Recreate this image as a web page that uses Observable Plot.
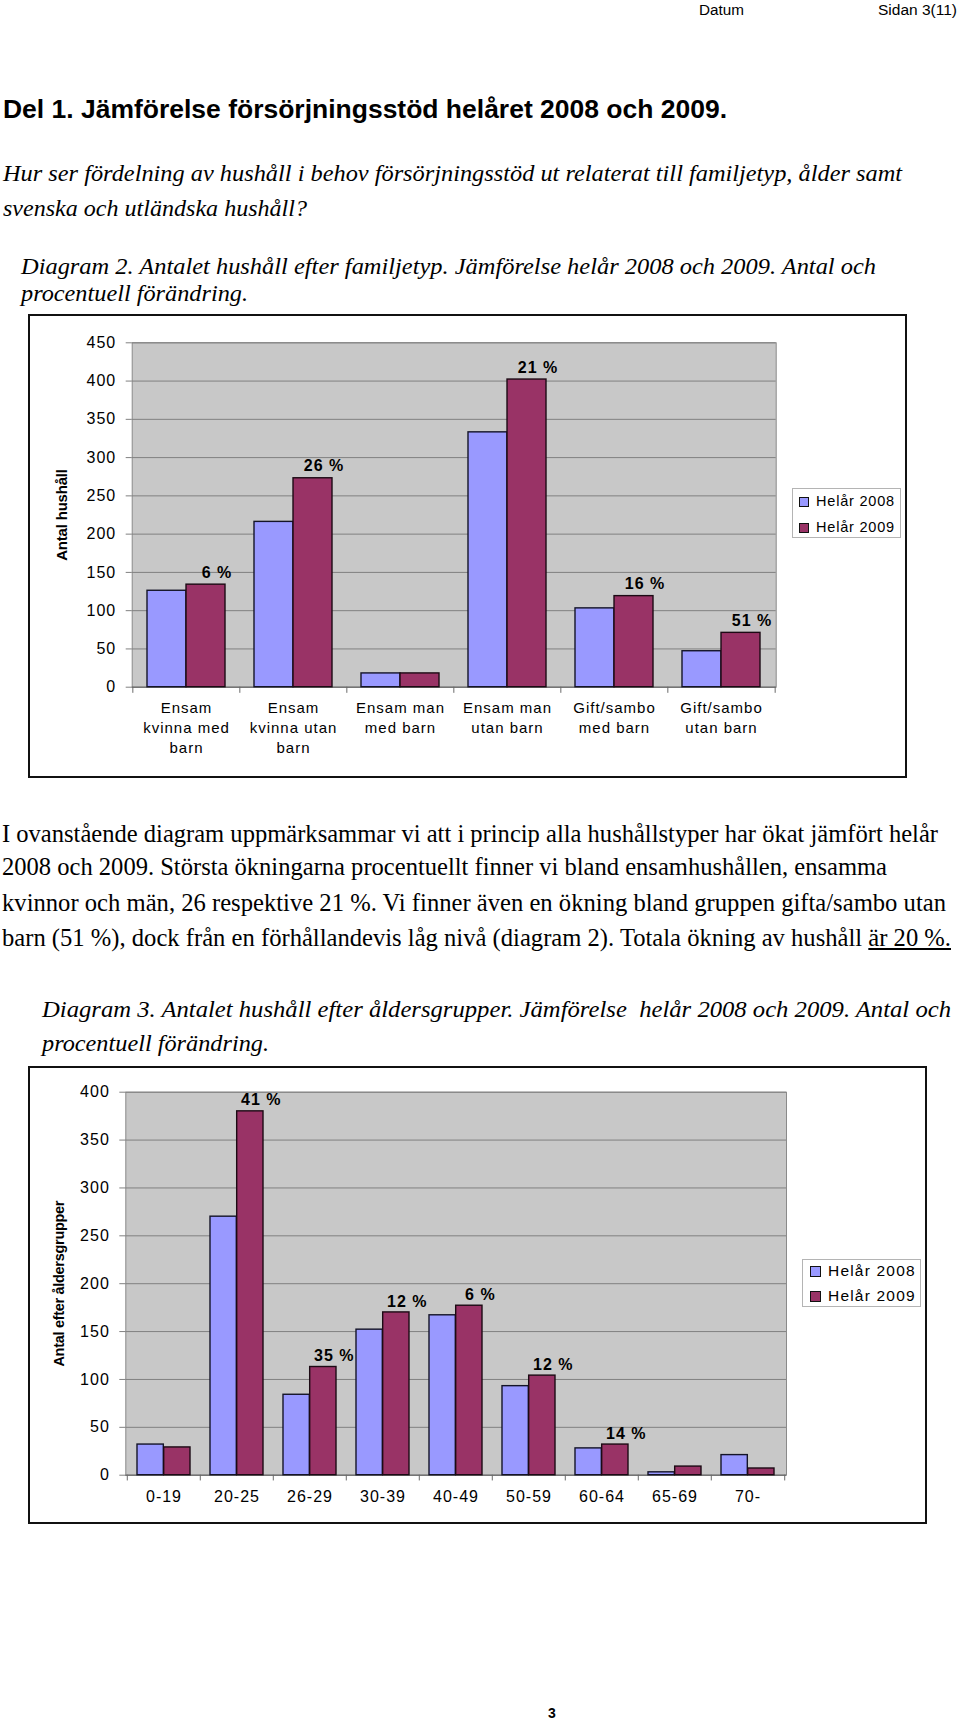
<!DOCTYPE html>
<html><head><meta charset="utf-8">
<script src="https://cdn.jsdelivr.net/npm/d3@7"></script>
<script src="https://cdn.jsdelivr.net/npm/@observablehq/plot@0.6"></script>
<style>
html,body{margin:0;padding:0;background:#fff;}
#page{position:relative;width:960px;height:1720px;overflow:hidden;background:#fff;}
.t{position:absolute;white-space:pre;transform-origin:0 0;line-height:1;color:#000;}
.box{position:absolute;border:2px solid #111;box-sizing:border-box;pointer-events:none;}
.chart{position:absolute;}
.legend{position:absolute;border:1px solid #b4b4b4;background:#fff;box-sizing:border-box;font-family:"Liberation Sans",Arial,sans-serif;}
.legend .row{position:absolute;left:0;white-space:nowrap;line-height:1;}
.legend .sw{position:absolute;border:1px solid #111;box-sizing:border-box;}
</style></head><body><div id="page"></div>
<script>
// ---------- DATA ----------
const seriesNames = ["Helår 2008", "Helår 2009"];
const seriesColors = ["#9999ff", "#993366"];

// Diagram 2 — family type
const familyTypes = ["Ensam\nkvinna med\nbarn", "Ensam\nkvinna utan\nbarn", "Ensam man\nmed barn", "Ensam man\nutan barn", "Gift/sambo\nmed barn", "Gift/sambo\nutan barn"];
const family2008 = [126, 216, 18, 333, 103, 47];
const family2009 = [134, 273, 18, 402, 119, 71];
const familyChange = ["6 %", "26 %", "", "21 %", "16 %", "51 %"];
const familyTicks = [0, 50, 100, 150, 200, 250, 300, 350, 400, 450];
const familyTitle = "Antal hushåll";

// Diagram 3 — age groups
const ageGroups = ["0-19", "20-25", "26-29", "30-39", "40-49", "50-59", "60-64", "65-69", "70-"];
const age2008 = [32, 270, 84, 152, 167, 93, 28, 3, 21];
const age2009 = [29, 380, 113, 170, 177, 104, 32, 9, 7];
const ageChange = ["", "41 %", "35 %", "12 %", "6 %", "12 %", "14 %", "", ""];
const ageTicks = [0, 50, 100, 150, 200, 250, 300, 350, 400];
const ageTitle = "Antal efter åldersgrupper";

// Document text
const headerLeft = "Datum";
const headerRight = "Sidan 3(11)";
const heading = "Del 1. Jämförelse försörjningsstöd helåret 2008 och 2009.";
const question = ["Hur ser fördelning av hushåll i behov försörjningsstöd ut relaterat till familjetyp, ålder samt", "svenska och utländska hushåll?"];
const caption2 = ["Diagram 2. Antalet hushåll efter familjetyp. Jämförelse helår 2008 och 2009. Antal och", "procentuell förändring."];
const paragraph = ["I ovanstående diagram uppmärksammar vi att i princip alla hushållstyper har ökat jämfört helår", "2008 och 2009. Största ökningarna procentuellt finner vi bland ensamhushållen, ensamma", "kvinnor och män, 26 respektive 21 %. Vi finner även en ökning bland gruppen gifta/sambo utan", "barn (51 %), dock från en förhållandevis låg nivå (diagram 2). Totala ökning av hushåll "];
const paragraphUnderlined = "är 20 %.";
const caption3 = ["Diagram 3. Antalet hushåll efter åldersgrupper. Jämförelse  helår 2008 och 2009. Antal och", "procentuell förändring."];
const pageNumber = "3";

// ---------- LAYOUT HELPERS ----------
const page = document.getElementById("page");
const SANS = '"Liberation Sans", Arial, sans-serif';
const SERIF = '"Liberation Serif", "Times New Roman", serif';

function place(content, o) {
  const el = document.createElement("div");
  el.className = "t";
  if (o.html) el.innerHTML = content; else el.textContent = content;
  el.style.fontFamily = o.family;
  el.style.fontSize = o.size + "px";
  el.style.fontWeight = o.weight || "normal";
  el.style.fontStyle = o.italic ? "italic" : "normal";
  el.style.top = (o.cy - 0.52 * o.size) + "px";
  el.style.left = "0px";
  page.appendChild(el);
  const nat = el.getBoundingClientRect().width;
  if (o.x2 != null) {
    el.style.left = o.x1 + "px";
    el.style.transform = `scaleX(${(o.x2 - o.x1) / nat})`;
  } else if (o.cx != null) {
    el.style.left = (o.cx - nat / 2) + "px";
  } else {
    el.style.left = o.x1 + "px";
  }
  return el;
}

// Header and body text
place(headerLeft, {family: SANS, size: 15.5, x1: 699, x2: 744, cy: 10});
place(headerRight, {family: SANS, size: 15.5, x1: 878, x2: 957, cy: 10});
place(heading, {family: SANS, size: 26, weight: "bold", x1: 3, x2: 727, cy: 110});
place(question[0], {family: SERIF, size: 24, italic: true, x1: 3, x2: 902, cy: 173});
place(question[1], {family: SERIF, size: 24, italic: true, x1: 3, x2: 307, cy: 208});
place(caption2[0], {family: SERIF, size: 23, italic: true, x1: 21, x2: 876, cy: 267});
place(caption2[1], {family: SERIF, size: 23, italic: true, x1: 21, x2: 248, cy: 294});
place(paragraph[0], {family: SERIF, size: 24.5, x1: 2, x2: 938, cy: 835});
place(paragraph[1], {family: SERIF, size: 24.5, x1: 2, x2: 887, cy: 868});
place(paragraph[2], {family: SERIF, size: 24.5, x1: 2, x2: 946, cy: 904});
place(paragraph[3] + "<u>" + paragraphUnderlined + "</u>", {family: SERIF, size: 24.5, x1: 2, x2: 951, cy: 939, html: true});
place(caption3[0], {family: SERIF, size: 23, italic: true, x1: 42, x2: 951, cy: 1010});
place(caption3[1], {family: SERIF, size: 23, italic: true, x1: 42, x2: 269, cy: 1044});
place(pageNumber, {family: SANS, size: 14, weight: "bold", cx: 552, cy: 1713});

// ---------- CHARTS ----------
function groupedBars(o) {
  const n = o.cats.length;
  const step = (o.width - o.ml - o.mr) / n;
  const pi = 0.273;
  const bw = step * (1 - pi);
  const rows = o.cats.map((c, i) => ({c, a: o.a[i], b: o.b[i], p: o.labels[i]}));
  const yMax = o.ticks[o.ticks.length - 1];
  const svg = Plot.plot({
    width: o.width, height: o.height,
    marginLeft: o.ml, marginRight: o.mr, marginTop: o.mt, marginBottom: o.mb,
    style: {fontFamily: SANS, fontSize: o.font + "px", color: "#000", background: "transparent", letterSpacing: o.ls + "px", overflow: "visible"},
    x: {domain: o.cats, paddingInner: pi, paddingOuter: pi / 2, label: null},
    y: {domain: [0, yMax], label: null},
    marks: [
      Plot.frame({fill: "#c8c8c8", stroke: "#8a8a8a"}),
      Plot.gridY(o.ticks, {stroke: "#808080", strokeOpacity: 1, strokeWidth: 1}),
      Plot.axisY(o.ticks, {tickSize: 6, tickPadding: 10, fontSize: o.tickFont, stroke: "#808080", fill: "#000", label: null}),
      Plot.axisX({tickSize: 0, tickPadding: o.xPad, fontSize: o.catFont, lineHeight: o.lineHeight, fill: "#000", label: null}),
      Plot.ruleY([0], {stroke: "#6a6a6a"}),
      Plot.ruleX(o.cats, {x: d => d, dx: -step / 2, y1: 0, y2: -o.tickUnits, stroke: "#6a6a6a"}),
      Plot.ruleX([o.cats[n - 1]], {x: d => d, dx: step / 2, y1: 0, y2: -o.tickUnits, stroke: "#6a6a6a"}),
      Plot.barY(rows, {x: "c", y: "a", insetRight: bw / 2, fill: seriesColors[0], stroke: "#141428", strokeWidth: 1.4}),
      Plot.barY(rows, {x: "c", y: "b", insetLeft: bw / 2, fill: seriesColors[1], stroke: "#1c0a14", strokeWidth: 1.4}),
      Plot.text(rows.filter(d => d.p), {x: "c", y: "b", text: "p", dx: bw / 4 + 11, dy: o.pctDy, fontWeight: "bold", fontSize: o.pctFont, fill: "#000"}),
      Plot.text([o.title], {frameAnchor: "left", textAnchor: "middle", lineAnchor: "middle", rotate: -90, dx: o.titleDx, fontWeight: "bold", fontSize: o.titleFont, fill: "#000"})
    ]
  });
  d3.select(svg).selectAll("text").filter(function() { return this.textContent === o.title; })
    .style("letter-spacing", o.titleLs + "px");
  const holder = document.createElement("div");
  holder.className = "chart";
  holder.style.left = o.left + "px";
  holder.style.top = o.top + "px";
  holder.appendChild(svg);
  page.appendChild(holder);
  const box = document.createElement("div");
  box.className = "box";
  box.style.left = o.left + "px"; box.style.top = o.top + "px";
  box.style.width = o.width + "px"; box.style.height = o.height + "px";
  page.appendChild(box);
  // legend
  const lg = o.legend;
  const leg = document.createElement("div");
  leg.className = "legend";
  leg.style.left = lg.x + "px"; leg.style.top = lg.y + "px";
  leg.style.width = lg.w + "px"; leg.style.height = lg.h + "px";
  seriesNames.forEach((name, i) => {
    const sw = document.createElement("div");
    sw.className = "sw";
    sw.style.left = lg.swX + "px";
    sw.style.top = (lg.rows[i] - lg.sw / 2) + "px";
    sw.style.width = lg.sw + "px"; sw.style.height = lg.sw + "px";
    sw.style.background = seriesColors[i];
    leg.appendChild(sw);
    const tx = document.createElement("div");
    tx.className = "row";
    tx.textContent = name;
    tx.style.fontSize = lg.font + "px";
    tx.style.letterSpacing = lg.ls + "px";
    tx.style.left = lg.textX + "px";
    tx.style.top = (lg.rows[i] - 0.55 * lg.font) + "px";
    leg.appendChild(tx);
  });
  page.appendChild(leg);
}

groupedBars({
  cats: familyTypes, a: family2008, b: family2009, labels: familyChange, ticks: familyTicks, title: familyTitle,
  left: 28, top: 314, width: 879, height: 464,
  ml: 103.7, mr: 131.3, mt: 28.3, mb: 91.3,
  font: 15, tickFont: 16, catFont: 15, pctFont: 16, titleFont: 15, ls: 1, titleLs: -0.2,
  lineHeight: 1.35, xPad: 11, tickUnits: 8, pctDy: -12, titleDx: -70,
  legend: {x: 792, y: 488, w: 109, h: 50, rows: [12.5, 38.5], swX: 6, sw: 10, textX: 23, font: 14.5, ls: 0.8}
});

groupedBars({
  cats: ageGroups, a: age2008, b: age2009, labels: ageChange, ticks: ageTicks, title: ageTitle,
  left: 28, top: 1066, width: 899, height: 458,
  ml: 97.3, mr: 141, mt: 25.7, mb: 49.3,
  font: 16, tickFont: 16, catFont: 16, pctFont: 16, titleFont: 14.5, ls: 1, titleLs: -0.3,
  lineHeight: 1.3, xPad: 12, tickUnits: 6, pctDy: -11, titleDx: -66,
  legend: {x: 802, y: 1259, w: 119, h: 48, rows: [11.7, 36.7], swX: 7, sw: 11, textX: 25, font: 15.5, ls: 1.2}
});
</script>
</body></html>
